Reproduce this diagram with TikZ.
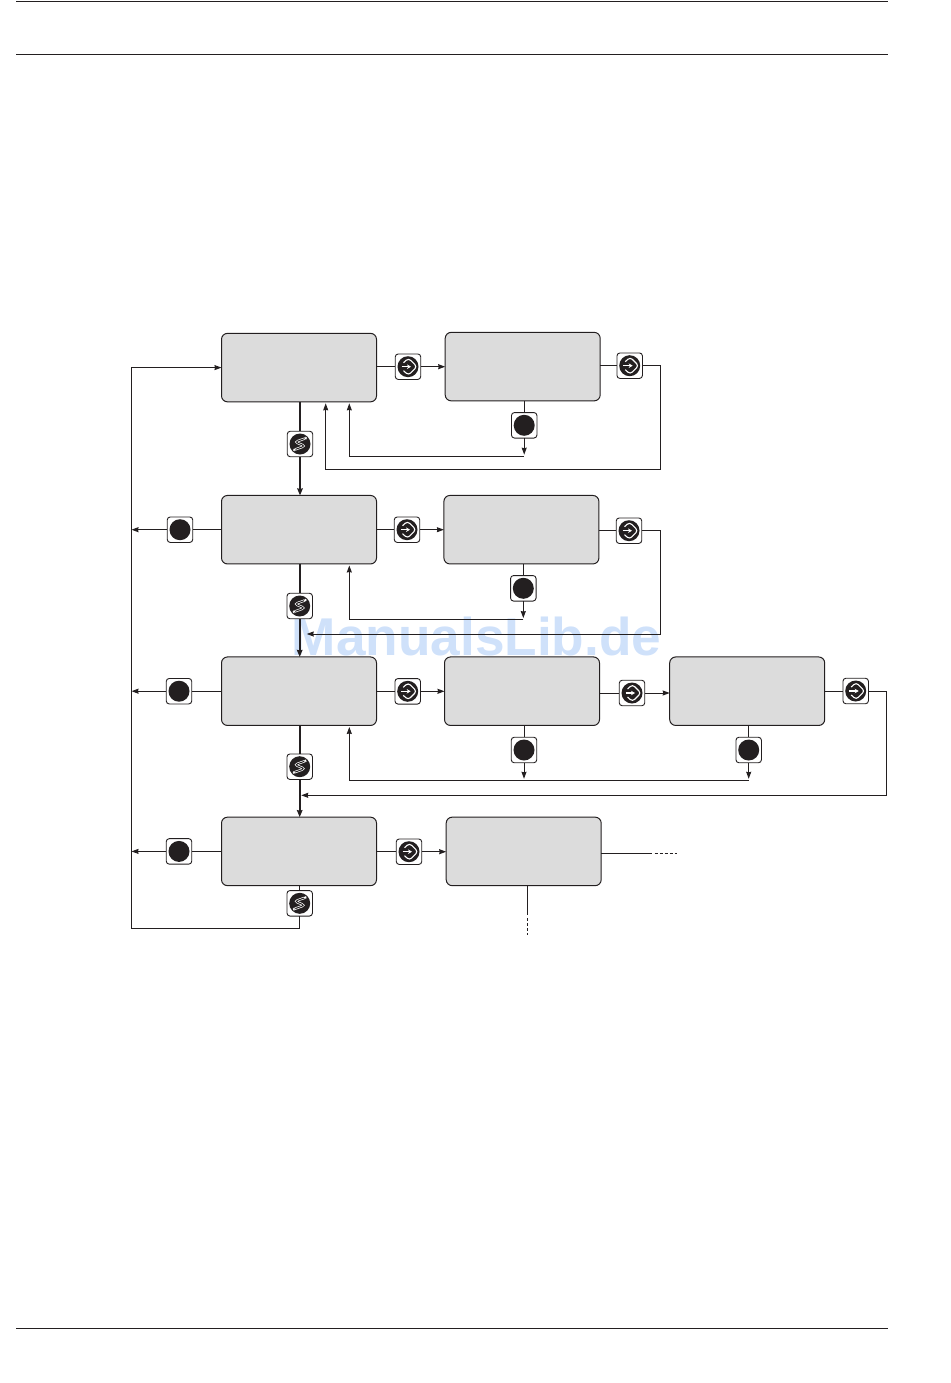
\documentclass[tikz,border=0pt]{standalone}
\usepackage{xcolor}
\usepackage{fontspec}
\setmainfont{Liberation Sans}
\usepackage{tikz}
\usetikzlibrary{positioning, arrows.meta, calc}
\definecolor{keyInk}{RGB}{35,31,32}
\definecolor{panelGrey}{RGB}{220,220,220}
\definecolor{markBlue}{RGB}{207,225,250}
\newcommand{\entermark}{%
  \fill[keyInk] (0,0) circle (10.5pt);
  \draw[white, line width=1.1pt] (-4.5,-4) -- (0.5,-8.5) -- (9,0) -- (0.5,8.5) -- (-4.5,4);
  \draw[white, line width=1.1pt, -{Stealth[length=4pt,width=4.5pt]}] (-6.5,0) -- (3,0);
}
\newcommand{\scrollmark}{%
  \fill[keyInk] (0,0) circle (10.5pt);
  \draw[white, line width=0.7pt, double=keyInk, double distance=1pt] (5,-5.5) -- (-5,-2) -- (5,2) -- (-5,5.5);
  \fill[white] (8,-6.5) -- (4,-7.5) -- (5,-3.5) -- cycle;
  \fill[white] (-8,6.5) -- (-4,7.5) -- (-5,3.5) -- cycle;
}

\begin{document}
\begin{tikzpicture}[
    x=1pt, y=-1pt,
    panel/.style={rectangle, draw=keyInk, fill=panelGrey, line width=1pt, minimum width=155pt, minimum height=68.5pt, rounded corners=6pt, outer sep=0pt},
    keybox/.style={rectangle, draw=keyInk, fill=white, line width=0.9pt, minimum width=25.5pt, minimum height=25.5pt, rounded corners=3pt, outer sep=0pt, inner sep=0pt},
    stopkey/.style={keybox, path picture={\fill[keyInk] (path picture bounding box.center) circle (10.5pt);}},
    enterkey/.style={keybox, path picture={\begin{scope}[shift={(path picture bounding box.center)}]\entermark\end{scope}}},
    scrollkey/.style={keybox, path picture={\begin{scope}[shift={(path picture bounding box.center)}]\scrollmark\end{scope}}},
    link/.style={draw=keyInk, line width=1pt},
    arrow/.style={link, -{Stealth[length=7pt,width=5pt,inset=0.5pt]}},
    mainlink/.style={draw=keyInk, line width=2pt},
    mainarrow/.style={mainlink, -{Stealth[length=7pt,width=5.5pt,inset=0.5pt]}},
    rule/.style={draw=keyInk, line width=1pt}
]
\useasboundingbox (0,0) rectangle (950,1383);

% Page rules and watermark
\draw[rule] (16,1.5) -- (888,1.5);
\draw[rule] (16,54.5) -- (888,54.5);
\draw[rule] (16,1328) -- (888,1328);
\node[font=\fontsize{53.2pt}{60pt}\selectfont\bfseries, text=markBlue, anchor=base, inner sep=0pt] (mark) at (476.5,655) {ManualsLib.de};

% Panels
\node[panel] (a1) at (299,367.6) {};
\node[panel, right=68.7pt of a1, yshift=1pt] (a2) {};
\node[panel] (b1) at (299,529.7) {};
\node[panel, right=67.4pt of b1] (b2) {};
\node[panel] (c1) at (299,691.2) {};
\node[panel, right=68pt of c1] (c2) {};
\node[panel, right=70.2pt of c2] (c3) {};
\node[panel] (d1) at (299,851.4) {};
\node[panel, right=69.7pt of d1] (d2) {};

% Keys
\node[enterkey] (a1ent) at (408,366.7) {};
\node[enterkey] (a2ent) at (629.7,365.7) {};
\node[stopkey, below=11.7pt of a2, xshift=1.5pt] (a2stop) {};
\node[scrollkey] (a1scr) at (300,444) {};
\node[stopkey, left=28.75pt of b1] (b1esc) {};
\node[enterkey] (b1ent) at (407,529.7) {};
\node[enterkey] (b2ent) at (629,530.7) {};
\node[stopkey, below=11.6pt of b2, xshift=1.9pt] (b2stop) {};
\node[scrollkey] (b1scr) at (299.7,606) {};
\node[stopkey, left=29.75pt of c1] (c1esc) {};
\node[enterkey] (c1ent) at (407.7,691.3) {};
\node[enterkey] (c2ent) at (632,693) {};
\node[enterkey] (c3ent) at (855.7,691) {};
\node[stopkey, below=11.8pt of c2, xshift=2pt] (c2stop) {};
\node[stopkey, below=11.8pt of c3, xshift=1.5pt] (c3stop) {};
\node[scrollkey] (c1scr) at (299.7,766.7) {};
\node[stopkey, left=29.75pt of d1] (d1esc) {};
\node[enterkey] (d1ent) at (409,851.7) {};
\node[scrollkey] (d1scr) at (299.7,903.3) {};

% Turning points
\coordinate (home) at (131.5,928.7);
\coordinate (a2far) at (660.7,469.3);
\coordinate (a2near) at (349.3,456.2);
\coordinate (b2far) at (660.5,634);
\coordinate (b2near) at (349.3,619.6);
\coordinate (c3far) at (886.7,795.3);
\coordinate (c3near) at (349.3,780.3);
\coordinate (d2right) at (651.5,853);
\coordinate (d2down) at (527.3,915);

% Down the first column
\draw[mainlink] (a1.south -| a1scr) -- (a1scr.north);
\draw[mainarrow] (a1scr.south) -- (a1scr |- b1.north);
\draw[mainlink] (b1.south -| b1scr) -- (b1scr.north);
\draw[mainarrow] (b1scr.south) -- (b1scr |- c1.north);
\draw[mainlink] (c1.south -| c1scr) -- (c1scr.north);
\draw[mainarrow] (c1scr.south) -- (c1scr |- d1.north);
\draw[link] (d1.south -| d1scr) -- (d1scr.north);
\draw[arrow] (d1scr.south) -- (d1scr |- home) -- (home) -- (home |- a1.west) -- (a1.west);

% Escape keys
\draw[link] (b1.west) -- (b1esc.east);
\draw[arrow] (b1esc.west) -- (b1esc.west -| home);
\draw[link] (c1.west) -- (c1esc.east);
\draw[arrow] (c1esc.west) -- (c1esc.west -| home);
\draw[link] (d1.west) -- (d1esc.east);
\draw[arrow] (d1esc.west) -- (d1esc.west -| home);

% Row 1
\draw[link] (a1ent.west -| a1.east) -- (a1ent.west);
\draw[arrow] (a1ent.east) -- (a1ent.east -| a2.west);
\draw[link] (a2ent.west -| a2.east) -- (a2ent.west);
\draw[arrow] (a2ent.east) -- (a2ent.east -| a2far) -- (a2far) -- (a2far -| 325.7,0) -- ($(325.7,0 |- a1.south)+(0,1.5)$);
\draw[link] (a2.south -| a2stop) -- (a2stop.north);
\draw[arrow, shorten >=1.5pt] (a2stop.south) -- (a2stop.south |- a2near);
\draw[arrow] (a2stop.south |- a2near) -- (a2near) -- ($(a2near |- a1.south)+(0,1.5)$);

% Row 2
\draw[link] (b1ent.west -| b1.east) -- (b1ent.west);
\draw[arrow] (b1ent.east) -- (b1ent.east -| b2.west);
\draw[link] (b2ent.west -| b2.east) -- (b2ent.west);
\draw[arrow] (b2ent.east) -- (b2ent.east -| b2far) -- (b2far) -- ($(b2far -| b1scr)+(7,0)$);
\draw[link] (b2.south -| b2stop) -- (b2stop.north);
\draw[arrow, shorten >=1.5pt] (b2stop.south) -- (b2stop.south |- b2near);
\draw[arrow] (b2stop.south |- b2near) -- (b2near) -- ($(b2near |- b1.south)+(0,1.5)$);

% Row 3
\draw[link] (c1ent.west -| c1.east) -- (c1ent.west);
\draw[arrow] (c1ent.east) -- (c1ent.east -| c2.west);
\draw[link] (c2ent.west -| c2.east) -- (c2ent.west);
\draw[arrow] (c2ent.east) -- (c2ent.east -| c3.west);
\draw[link] (c3ent.west -| c3.east) -- (c3ent.west);
\draw[arrow] (c3ent.east) -- (c3ent.east -| c3far) -- (c3far) -- ($(c3far -| c1scr)+(1.5,0)$);
\draw[link] (c2.south -| c2stop) -- (c2stop.north);
\draw[arrow, shorten >=1.5pt] (c2stop.south) -- (c2stop.south |- c3near);
\draw[link] (c3.south -| c3stop) -- (c3stop.north);
\draw[arrow, shorten >=1.5pt] (c3stop.south) -- (c3stop.south |- c3near);
\draw[arrow] (c3stop.south |- c3near) -- (c3near) -- ($(c3near |- c1.south)+(0,1.5)$);

% Row 4
\draw[link] (d1ent.west -| d1.east) -- (d1ent.west);
\draw[arrow] (d1ent.east) -- (d1ent.east -| d2.west);
\draw[link] (d2.east |- d2right) -- (d2right);
\draw[link, dash pattern=on 3pt off 2pt] ($(d2right)+(3,0)$) -- ($(d2right)+(25,0)$);
\draw[link] (d2.south -| d2down) -- (d2down);
\draw[link, dash pattern=on 3pt off 2pt] ($(d2down)+(0,3)$) -- ($(d2down)+(0,20)$);
\end{tikzpicture}
\end{document}
